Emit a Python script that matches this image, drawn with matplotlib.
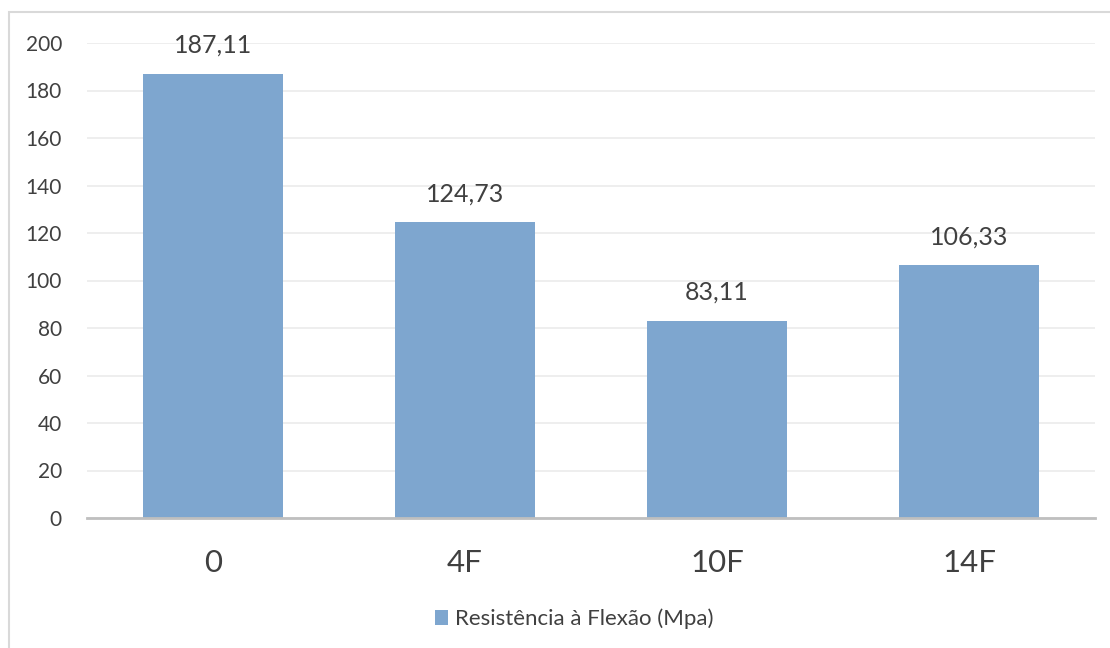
import matplotlib.pyplot as plt
from matplotlib.patches import Rectangle

categorias = ['0', '4F', '10F', '14F']
valores = [187.11, 124.73, 83.11, 106.33]
yticks = [0, 20, 40, 60, 80, 100, 120, 140, 160, 180, 200]
serie = 'Resistência à Flexão (Mpa)'

plt.rcParams['font.family'] = ['Lato', 'DejaVu Sans']
cor_barra = '#7EA6CF'
cor_texto = '#404040'

fig = plt.figure(figsize=(11.1, 6.48), dpi=100)
fig.patches.append(Rectangle((9 / 1110, -0.1), 1.2, 1.1 - 12 / 648,
                             transform=fig.transFigure, fill=False,
                             edgecolor='#D9D9D9', linewidth=1.5))

ax = fig.add_axes([87 / 1110, 1 - 518 / 648, 1008 / 1110, 475 / 648])
x = list(range(len(categorias)))
barras = ax.bar(x, valores, width=0.556, color=cor_barra, zorder=2, label=serie)
ax.set_xlim(-0.5, len(categorias) - 0.5)
ax.set_ylim(0, 200)
ax.set_yticks(yticks)
ax.set_xticks(x)
ax.set_xticklabels(categorias, fontsize=22.5, color=cor_texto)
ax.tick_params(axis='y', labelsize=15, colors=cor_texto, length=0, pad=18)
ax.tick_params(axis='x', length=0, pad=22)
ax.grid(axis='y', color='#EBEBEB', linewidth=1.2, zorder=0)
for s in ['top', 'right', 'left']:
    ax.spines[s].set_visible(False)
ax.spines['bottom'].set_color('#BFBFBF')
ax.spines['bottom'].set_linewidth(2)

for xi, v in zip(x, valores):
    ax.annotate(f'{v:.2f}'.replace('.', ','), (xi, v), xytext=(0, 12),
                textcoords='offset points', ha='center', va='bottom',
                fontsize=18, color=cor_texto)

fig.legend(handles=[barras], labels=[serie], loc='center',
           bbox_to_anchor=(574 / 1110, 1 - 619 / 648), frameon=False,
           fontsize=16, labelcolor=cor_texto, handlelength=0.6,
           handleheight=0.6, handletextpad=0.3)

fig.savefig('out.png', dpi=100)
